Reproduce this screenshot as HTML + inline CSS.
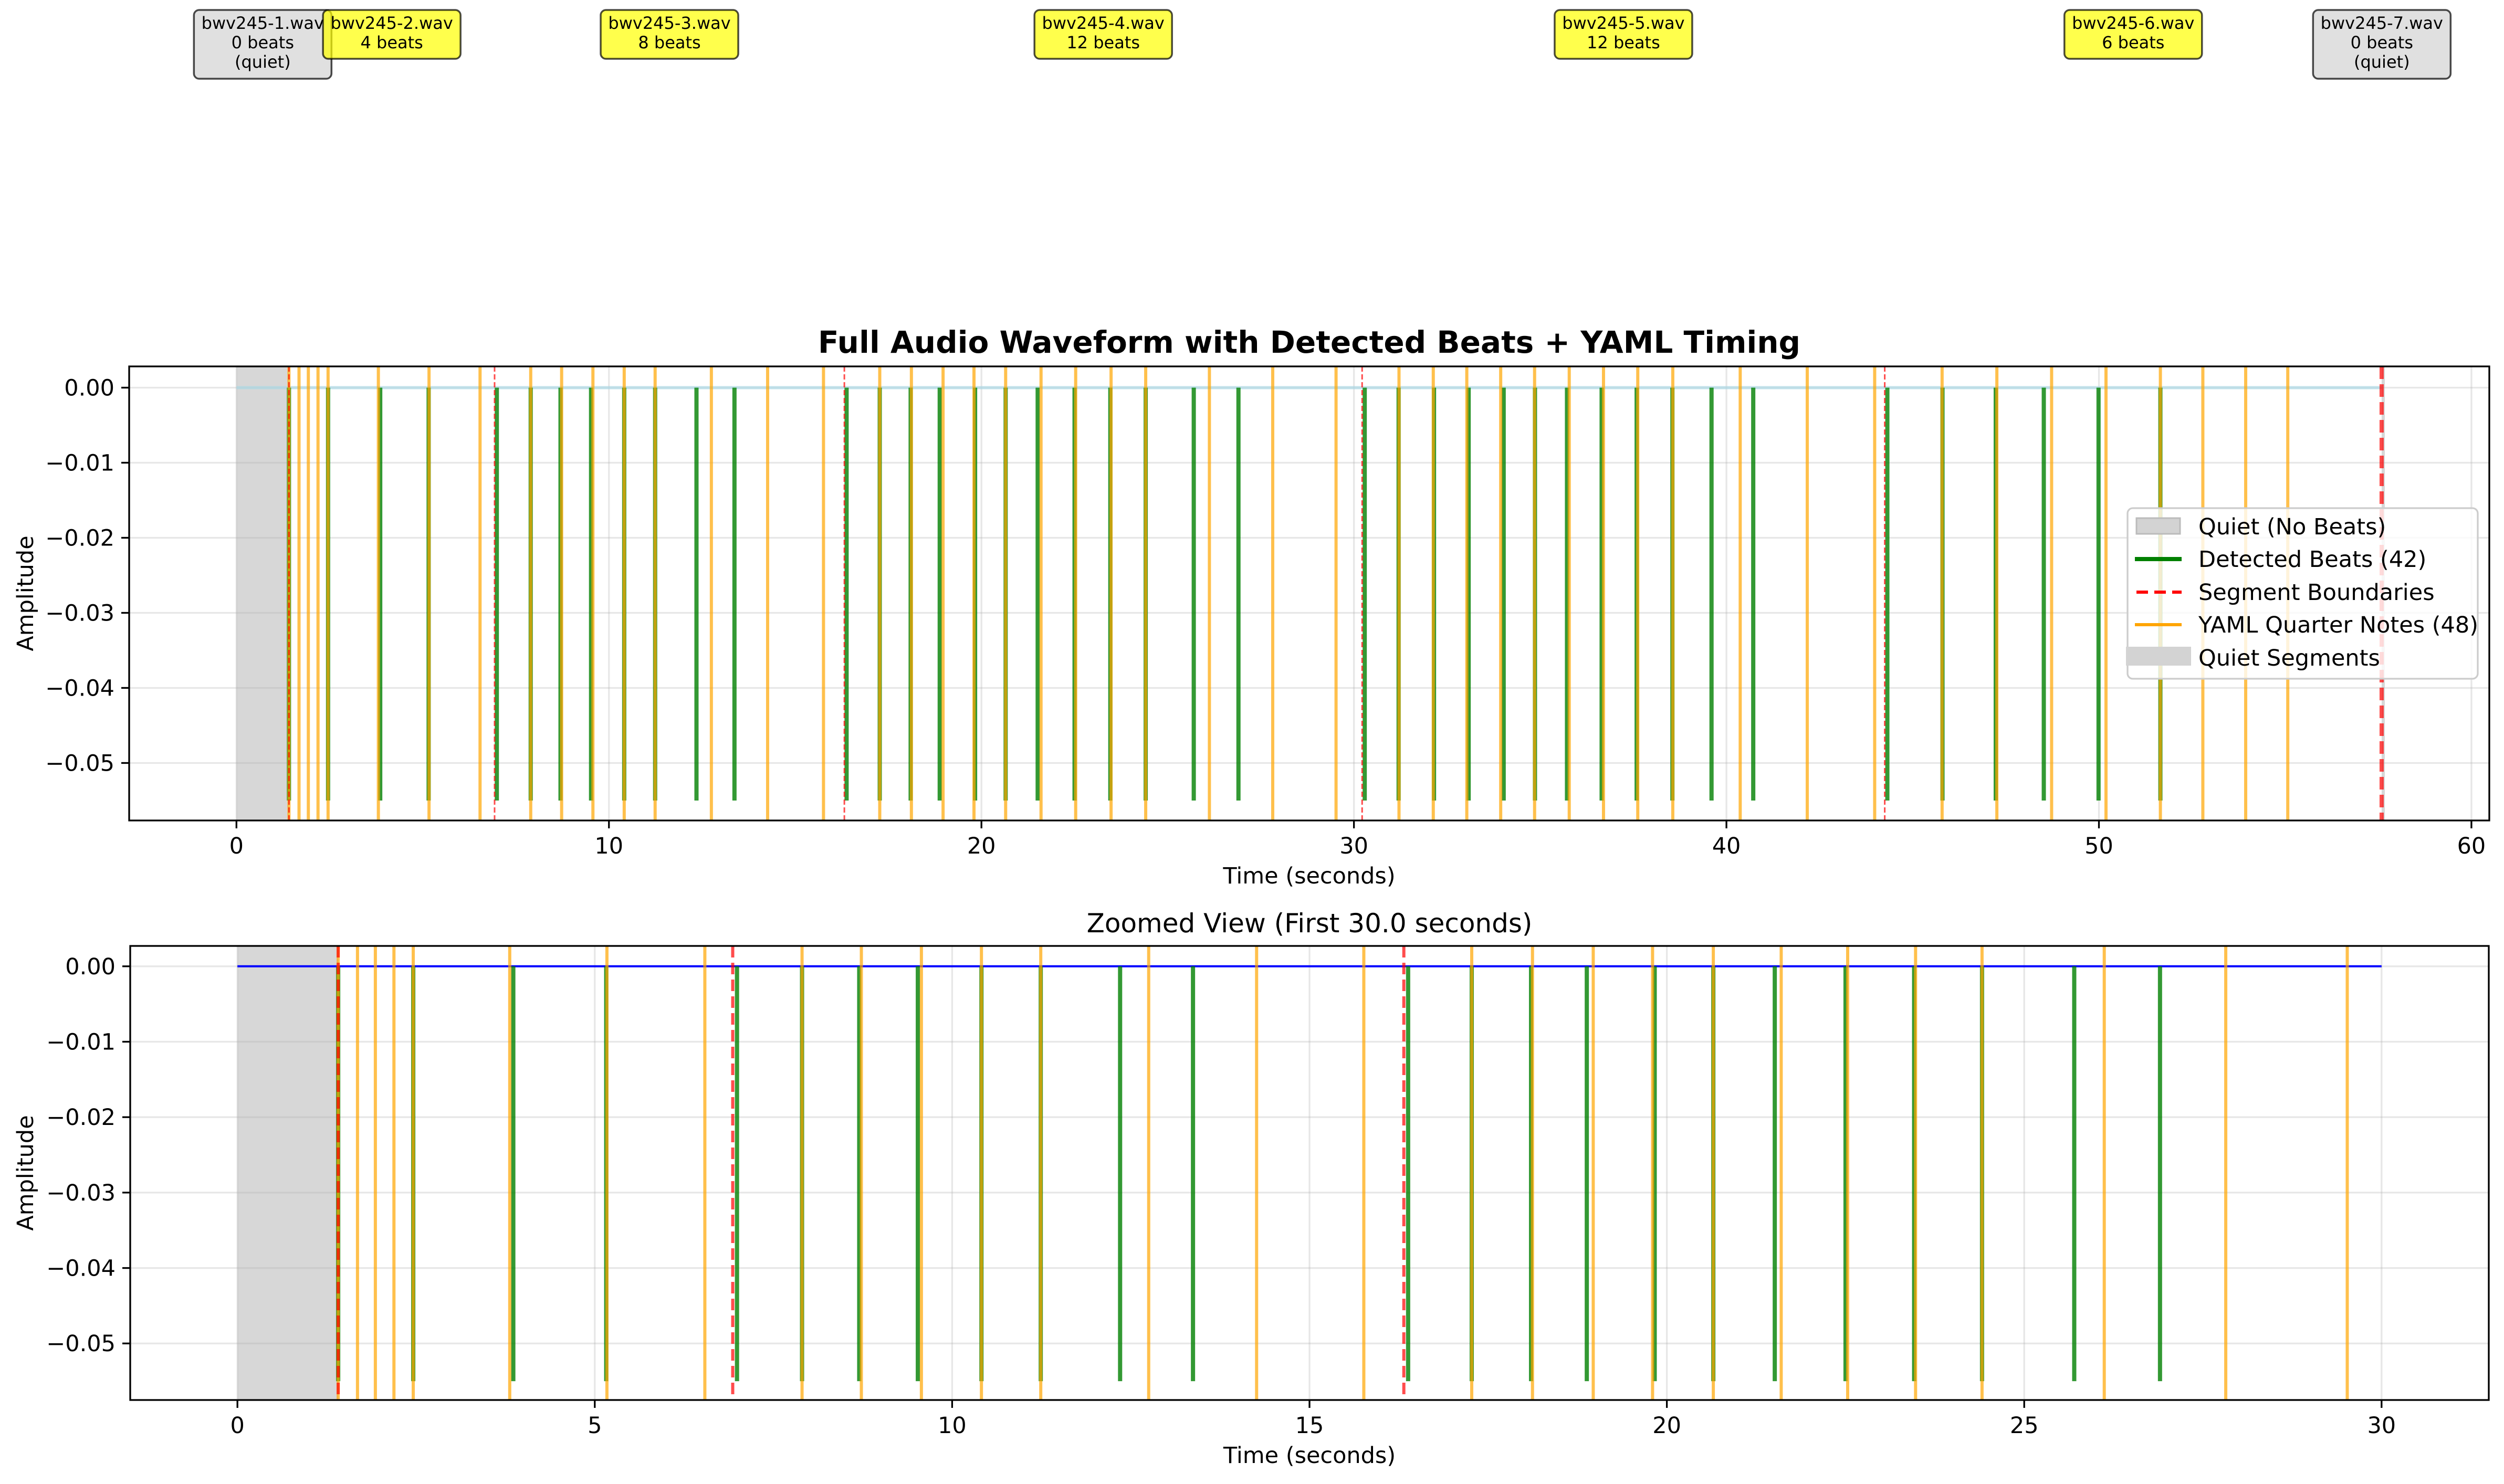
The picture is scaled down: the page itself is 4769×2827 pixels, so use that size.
<!DOCTYPE html>
<html><head><meta charset="utf-8">
<style>
html,body{margin:0;padding:0;background:#fff;}
svg{display:block;font-family:"DejaVu Sans","Liberation Sans",sans-serif;}
</style></head>
<body>
<svg id="chart" width="4769" height="2827" viewBox="0 0 4769 2827" xmlns="http://www.w3.org/2000/svg">
<rect width="4769" height="2827" fill="#fff"/>
<g id="annos"></g>
<g id="topPanel"></g>
<g id="botPanel"></g>
</svg>
<script>
// ---- data ----
const yamlNotes = [1.41,1.68,1.93,2.19,2.46,3.81,5.17,6.54,7.90,8.73,9.57,10.41,11.24,12.75,14.26,15.76,17.27,18.12,18.97,19.80,20.65,21.60,22.53,23.48,24.41,26.12,27.82,29.52,31.21,32.13,33.03,33.94,34.85,35.78,36.70,37.62,38.56,40.37,42.17,43.98,45.79,47.26,48.73,50.19,51.65,52.79,53.94,55.07];
const detectedBeats = [1.41,2.46,3.86,5.16,6.99,7.90,8.70,9.52,10.41,11.24,12.35,13.37,16.38,17.27,18.10,18.88,19.83,20.65,21.51,22.50,23.46,24.41,25.70,26.90,30.29,31.20,32.15,33.08,34.02,34.86,35.72,36.65,37.59,38.55,39.60,40.72,44.32,45.80,47.23,48.52,49.99,51.65];
const boundaries = [0,1.41,6.93,16.32,30.22,44.25,57.59,57.60];
const segNames = ["bwv245-1.wav","bwv245-2.wav","bwv245-3.wav","bwv245-4.wav","bwv245-5.wav","bwv245-6.wav","bwv245-7.wav"];
const segBeats = [0,4,8,12,12,6,0];
const totalDur = 57.6;
const zoomDur = 30.0;
const yTicks = [0.00,-0.01,-0.02,-0.03,-0.04,-0.05];
const topXTicks = [0,10,20,30,40,50,60];
const botXTicks = [0,5,10,15,20,25,30];
const beatMin = -0.055;

const NS="http://www.w3.org/2000/svg";
function mk(parent,tag,attrs,text){const e=document.createElementNS(NS,tag);for(const k in attrs)e.setAttribute(k,attrs[k]);if(text!==undefined)e.textContent=text;parent.appendChild(e);return e;}

function panel(g,cfg){
  const L=cfg.L,R=cfg.R,T=cfg.T,B=cfg.B,x0=cfg.x0,x1=cfg.x1,y0=cfg.y0,y1=cfg.y1;
  const sx=t=>L+(t-x0)/(x1-x0)*(R-L);
  const sy=v=>T+(y1-v)/(y1-y0)*(B-T);
  const clip=mk(g,'clipPath',{id:cfg.id+'clip'});mk(clip,'rect',{x:L,y:T,width:R-L,height:B-T});
  const pg=mk(g,'g',{'clip-path':'url(#'+cfg.id+'clip)'});
  for(let i=0;i<segBeats.length;i++){
    if(segBeats[i]===0){
      const a=boundaries[i],b=boundaries[i+1];
      if(cfg.zoom && a>zoomDur) continue;
      const r=mk(pg,'rect',{x:sx(a),y:T,width:Math.max(sx(b)-sx(a),cfg.zoom?0:6),height:B-T,fill:'#d3d3d3','fill-opacity':0.9});
      
      
    }
  }
  cfg.xt.forEach(t=>{const l=mk(pg,'line',{x1:sx(t),x2:sx(t),y1:T,y2:B,stroke:'#b0b0b0','stroke-opacity':0.3,'stroke-width':3.3});
    
    });
  yTicks.forEach(v=>{const l=mk(pg,'line',{x1:L,x2:R,y1:sy(v),y2:sy(v),stroke:'#b0b0b0','stroke-opacity':0.3,'stroke-width':3.3});
    
    });
  const wl=mk(pg,'line',{x1:sx(0),x2:sx(cfg.zoom?zoomDur:totalDur),y1:sy(0),y2:sy(0),stroke:cfg.zoom?'#0000ff':'#add8e6','stroke-width':cfg.zoom?4:6,'stroke-opacity':cfg.zoom?1:0.7});
  
  
  detectedBeats.forEach(t=>{ if(cfg.zoom && t>zoomDur) return;
    const l=mk(pg,'line',{x1:sx(t),x2:sx(t),y1:sy(0),y2:sy(beatMin),stroke:'#008000','stroke-opacity':0.8,'stroke-width':8});
    
    });
  yamlNotes.forEach(t=>{ if(cfg.zoom && t>zoomDur) return;
    const l=mk(pg,'line',{x1:sx(t),x2:sx(t),y1:T,y2:B,stroke:'#ffa500','stroke-opacity':0.7,'stroke-width':6});
    
    });
  for(let i=1;i<boundaries.length-1;i++){
    const t=boundaries[i]; if(cfg.zoom && t>zoomDur) continue;
    const last = (i===boundaries.length-2);
    const w = cfg.zoom?6:(last?8:3);
    const l=mk(pg,'line',{x1:sx(t),x2:sx(t),y1:T,y2:B,stroke:'#ff0000','stroke-opacity':0.7,'stroke-width':w,'stroke-dasharray':cfg.zoom?'22,10':(last?'24,10':'10,5')});
    
    
  }
  const sp=mk(g,'rect',{x:L,y:T,width:R-L,height:B-T,fill:'none',stroke:'#000','stroke-width':3.3});
  
  
  cfg.xt.forEach(t=>{mk(g,'line',{x1:sx(t),x2:sx(t),y1:B,y2:B+15,stroke:'#000','stroke-width':3.3});
    const tx=mk(g,'text',{x:sx(t),y:B+63,'font-size':43,'text-anchor':'middle',fill:'#000'},String(t));
    
    });
  yTicks.forEach(v=>{mk(g,'line',{x1:L-15,x2:L,y1:sy(v),y2:sy(v),stroke:'#000','stroke-width':3.3});
    const s=(v<0?'\u2212':'')+Math.abs(v).toFixed(2);
    const tx=mk(g,'text',{x:L-28,y:sy(v)+15,'font-size':43,'text-anchor':'end',fill:'#000'},s);
    
    });
  const xl=mk(g,'text',{x:(L+R)/2,y:B+120,'font-size':43,'text-anchor':'middle',fill:'#000'},'Time (seconds)');
  
  
  const yc=(T+B)/2;
  const yl=mk(g,'text',{x:63,y:yc,'font-size':43,'text-anchor':'middle',fill:'#000',transform:'rotate(-90 63 '+yc+')'},'Amplitude');
  
  
  const tt=mk(g,'text',{x:(L+R)/2,y:T-26,'font-size':cfg.zoom?50:58,'font-weight':cfg.zoom?'normal':'bold','text-anchor':'middle',fill:'#000'},cfg.title);
  
  
  return sx;
}

const topG=document.getElementById('topPanel');
const sxTop=panel(topG,{id:'t',L:246,R:4741,T:698,B:1563,x0:-2.88,x1:60.48,y0:-0.05766,y1:0.00283,xt:topXTicks,zoom:false,title:'Full Audio Waveform with Detected Beats + YAML Timing'});
const botG=document.getElementById('botPanel');
panel(botG,{id:'b',L:248,R:4740,T:1802,B:2667,x0:-1.5,x1:31.5,y0:-0.0575,y1:0.0027,xt:botXTicks,zoom:true,title:'Zoomed View (First 30.0 seconds)'});

(function(){
  const g=mk(topG,'g',{});
  
  
  mk(g,'rect',{x:4052,y:968,width:667,height:325,rx:10,fill:'#fff','fill-opacity':0.8,stroke:'#cccccc','stroke-width':3.3});
  const rows=[1003,1065,1128,1190,1253];
  const labels=['Quiet (No Beats)','Detected Beats (42)','Segment Boundaries','YAML Quarter Notes (48)','Quiet Segments'];
  mk(g,'rect',{x:4069,y:987,width:83,height:30,fill:'#d3d3d3',stroke:'#bbbbbb','stroke-width':3});
  mk(g,'line',{x1:4066,x2:4155,y1:rows[1],y2:rows[1],stroke:'#008000','stroke-width':8});
  mk(g,'line',{x1:4069,x2:4155,y1:rows[2],y2:rows[2],stroke:'#ff0000','stroke-width':6,'stroke-dasharray':'22,12'});
  mk(g,'line',{x1:4066,x2:4155,y1:rows[3],y2:rows[3],stroke:'#ffa500','stroke-width':6});
  mk(g,'rect',{x:4049,y:1232,width:124,height:36,fill:'#d3d3d3'});
  labels.forEach((s,i)=>{const t=mk(g,'text',{x:4187,y:rows[i]+15,'font-size':43,fill:'#000'},s);
    
    });
})();

(function(){
  const g=document.getElementById('annos');
  for(let i=0;i<segNames.length;i++){
    const mid=(boundaries[i]+boundaries[i+1])/2;
    const cx=sxTop(mid);
    const quiet=segBeats[i]===0;
    const lines=[segNames[i],segBeats[i]+' beats'];
    if(quiet) lines.push('(quiet)');
    const h=quiet?131:93;
    const bx=mk(g,'g',{});
    
    
    mk(bx,'rect',{x:cx-131,y:19,width:262,height:h,rx:10,fill:quiet?'#d3d3d3':'#ffff00','fill-opacity':0.7,stroke:'#000','stroke-opacity':0.7,'stroke-width':3.5});
    lines.forEach((s,j)=>mk(bx,'text',{x:cx,y:55+j*37,'font-size':32,'text-anchor':'middle',fill:'#000'},s));
  }
})();
</script>
</body></html>
